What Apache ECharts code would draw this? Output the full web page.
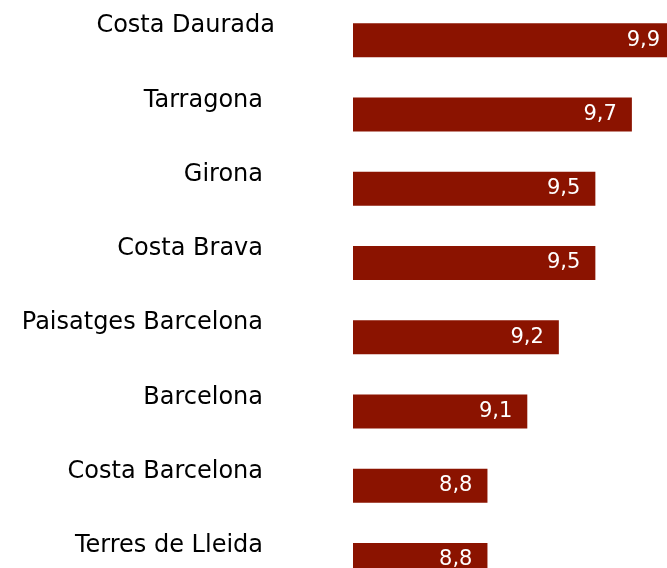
<!DOCTYPE html>
<html>
<head>
<meta charset="utf-8">
<script src="https://cdn.jsdelivr.net/npm/echarts@6/dist/echarts.min.js"></script>
<style>
html,body{margin:0;padding:0;background:#fff;overflow:hidden;width:667px;height:568px;}
#chart{width:700px;height:620px;}
</style>
</head>
<body>
<div id="chart"></div>
<script>
const categories = ['Costa Daurada','Tarragona','Girona','Costa Brava','Paisatges Barcelona','Barcelona','Costa Barcelona','Terres de Lleida'];
const values = [9.94, 9.68, 9.46, 9.46, 9.24, 9.05, 8.81, 8.81];
const axisMin = 8;
const axisMax = 10;

const chart = echarts.init(document.getElementById('chart'), null, {renderer:'canvas'});
chart.setOption({
  animation: false,
  backgroundColor: '#ffffff',
  grid: {left: 353, top: 3, width: 332, height: 594, containLabel: false},
  xAxis: {
    type: 'value', min: axisMin, max: axisMax, show: false
  },
  yAxis: {
    type: 'category', data: categories, inverse: true,
    axisLine: {show: false}, axisTick: {show: false}, splitLine: {show: false},
    axisLabel: {
      margin: 78,
      color: '#000',
      fontFamily: 'DejaVu Sans',
      fontSize: 24,
      padding: [0, 0, 28, 0],
      formatter: function (v) { return v === 'Costa Daurada' ? '{a|' + v + '}' : '{b|' + v + '}'; },
      rich: {
        a: {color: '#000', fontFamily: 'DejaVu Sans', fontSize: 24},
        b: {color: '#000', fontFamily: 'DejaVu Sans', fontSize: 24, padding: [0, 12, 0, 0]}
      }
    }
  },
  series: [{
    type: 'bar',
    data: values,
    barWidth: 34,
    itemStyle: {color: '#8B1300'},
    label: {
      show: true,
      position: 'insideRight',
      distance: 15,
      color: '#fff',
      fontFamily: 'DejaVu Sans',
      fontSize: 21,
      formatter: function (p) { return p.value.toFixed(1).replace('.', ','); }
    }
  }]
});
</script>
</body>
</html>
